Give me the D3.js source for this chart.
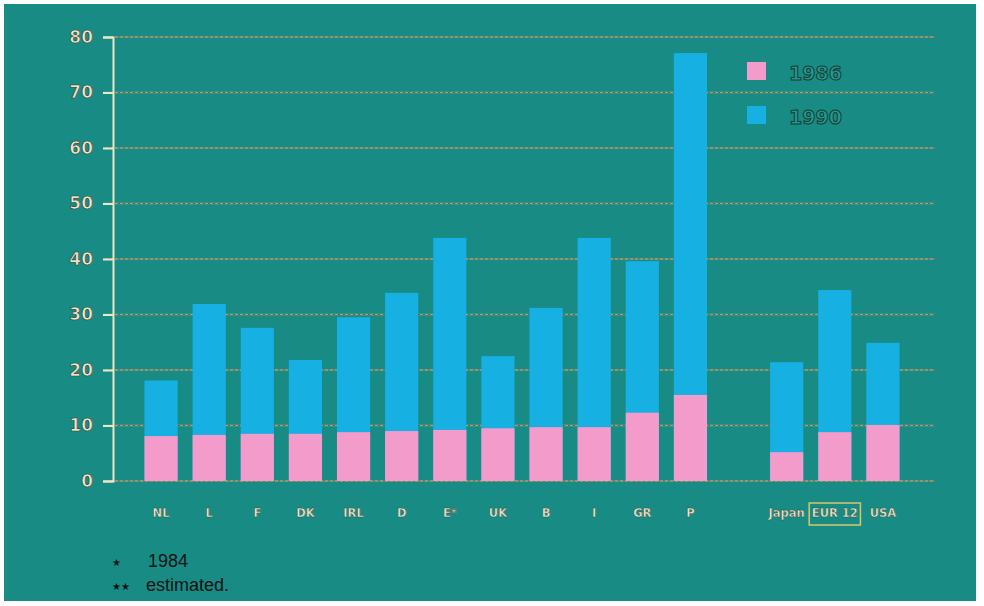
<!DOCTYPE html>
<html><head><meta charset="utf-8">
<script src="https://cdn.jsdelivr.net/npm/d3@7"></script>
<style>body{margin:0;background:#fff}svg{display:block}</style>
</head><body>
<svg id="c" width="984" height="606"></svg>
<script>
const categories = ["NL","L","F","DK","IRL","D","E*","UK","B","I","GR","P","Japan","EUR 12","USA"];
const values1986 = [8.1, 8.3, 8.5, 8.5, 8.8, 9.0, 9.2, 9.5, 9.7, 9.7, 12.3, 15.5, 5.2, 8.8, 10.1];
const values1990 = [18.1, 31.9, 27.6, 21.8, 29.5, 33.9, 43.8, 22.5, 31.2, 43.8, 39.6, 77.1, 21.4, 34.4, 24.9];
const yTicks = [0,10,20,30,40,50,60,70,80];
const seriesNames = ["1986","1990"];
const footnotes = [["\u2605","1984"],["\u2605\u2605","estimated."]];

const svg = d3.select("#c");
const BG = "#178b84", PINK = "#f39bcb", BLUE = "#17b0e2", CREAM = "#ece6c8";
svg.append("rect").attr("x",4).attr("y",4).attr("width",972).attr("height",597).attr("fill",BG);

const domain = [...categories.slice(0,12), "__gap__", ...categories.slice(12)];
const x = d3.scaleBand().domain(domain).range([137, 907]).paddingInner(0.31).paddingOuter(0.155);
const y = d3.scaleLinear().domain([0,80]).range([481, 37]);

// gridlines
const grid = svg.append("g");
yTicks.forEach(t => {
  grid.append("line").attr("x1",103).attr("x2",935).attr("y1",y(t)).attr("y2",y(t))
    .attr("stroke","#b9a878").attr("stroke-width",1.6).attr("opacity",0.85);
  grid.append("line").attr("x1",103).attr("x2",935).attr("y1",y(t)).attr("y2",y(t))
    .attr("stroke","#3a3a3a").attr("stroke-width",1).attr("stroke-dasharray","2,3").attr("opacity",0.6);
});

// y axis
const yAxis = d3.axisLeft(y).tickValues(yTicks).tickSize(10).tickPadding(10);
const ga = svg.append("g").attr("transform","translate(113,0)").call(yAxis);
ga.select(".domain").attr("stroke",CREAM).attr("stroke-width",2);
ga.selectAll(".tick line").attr("stroke",CREAM).attr("stroke-width",2);
ga.selectAll(".tick text").attr("fill",CREAM).attr("stroke","#3d4a40").attr("stroke-width",0.7)
  .style("font-family","'DejaVu Sans', Arial, sans-serif").style("font-weight","bold").style("font-size","17px");

const data = categories.map((c,i)=>({c, a: values1986[i], b: values1990[i]}));
const bars = svg.append("g");
bars.selectAll(".b").data(data).join("rect")
  .attr("x", d=>x(d.c)).attr("width", x.bandwidth())
  .attr("y", d=>y(d.b)).attr("height", d=>y(0)-y(d.b)).attr("fill",BLUE);
bars.selectAll(".p").data(data).join("rect")
  .attr("x", d=>x(d.c)).attr("width", x.bandwidth())
  .attr("y", d=>y(d.a)).attr("height", d=>y(0)-y(d.a)).attr("fill",PINK);

// x labels
const xl = svg.append("g");
data.forEach(d => {
  xl.append("text").attr("x", x(d.c)+x.bandwidth()/2).attr("y",517).attr("text-anchor","middle")
    .attr("fill",CREAM).attr("stroke","#3d4a40").attr("stroke-width",0.4)
    .style("font-family","'DejaVu Sans', Arial, sans-serif").style("font-weight","bold").style("font-size","11.5px")
    .text(d.c);
});
// box around EUR 12
const eb = x("EUR 12");
svg.append("rect").attr("x", eb-9).attr("y",503).attr("width", x.bandwidth()+18).attr("height",22)
  .attr("fill","none").attr("stroke","#d8c86a").attr("stroke-width",1.5);

// legend
const leg = svg.append("g");
[[PINK,80],[BLUE,124]].forEach(([col,yy],i)=>{
  leg.append("rect").attr("x",747).attr("y",yy-18).attr("width",19).attr("height",18).attr("fill",col);
  leg.append("text").attr("x",789).attr("y",yy).attr("fill","#1f9a8e").attr("stroke","#1d3b36").attr("stroke-width",1)
    .style("font-family","'DejaVu Sans', Arial, sans-serif").style("font-weight","bold").style("font-size","19px")
    .text(seriesNames[i]);
});

// footnotes
footnotes.forEach(([s,t],i)=>{
  const yy = 567 + i*24;
  svg.append("text").attr("x",112).attr("y",yy-1).attr("fill","#111")
    .style("font-family","'DejaVu Sans', Arial, sans-serif").style("font-size","10px").text(s);
  svg.append("text").attr("x", i===0?148:146).attr("y",yy).attr("fill","#111")
    .style("font-family","'Liberation Sans', Arial, sans-serif").style("font-size","18px").text(t);
});
</script>
</body></html>
